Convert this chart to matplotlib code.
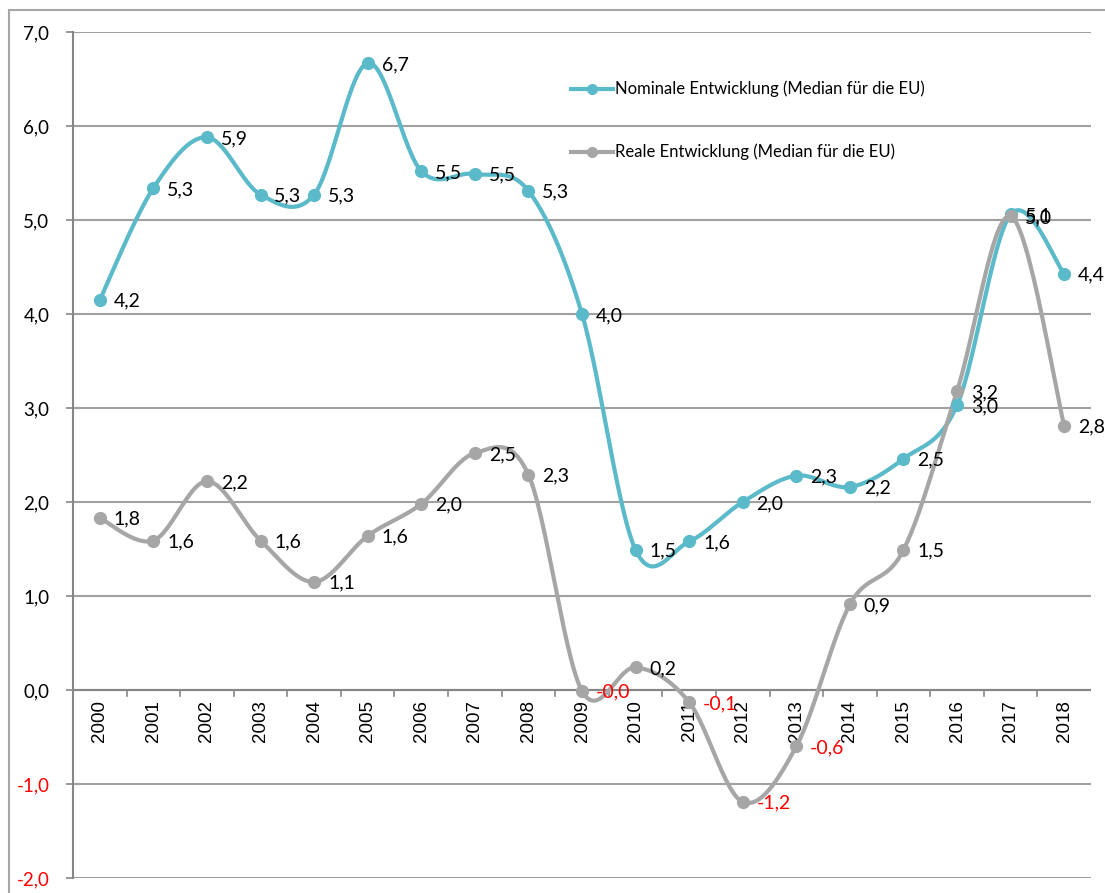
import matplotlib.pyplot as plt
import numpy as np
from matplotlib.patches import Rectangle

# Daten
jahre = [str(j) for j in range(2000, 2019)]
nominal = [4.15, 5.34, 5.88, 5.27, 5.27, 6.67, 5.52, 5.49, 5.31, 4.00,
           1.49, 1.58, 2.00, 2.28, 2.16, 2.46, 3.03, 5.06, 4.43]
real = [1.83, 1.59, 2.22, 1.59, 1.15, 1.64, 1.98, 2.52, 2.29, -0.01,
        0.24, -0.13, -1.19, -0.60, 0.91, 1.49, 3.18, 5.04, 2.81]
name_nom = "Nominale Entwicklung (Median für die EU)"
name_real = "Reale Entwicklung (Median für die EU)"

col_nom = "#5BBAC9"
col_real = "#A6A6A6"
font = "Lato"


def smooth(x, y, n=30):
    # Catmull-Rom-Spline wie bei Excel "geglättete Linie"
    x = np.asarray(x, float)
    y = np.asarray(y, float)
    px = np.concatenate([[x[0]], x, [x[-1]]])
    py = np.concatenate([[y[0]], y, [y[-1]]])
    xs, ys = [], []
    t = np.linspace(0, 1, n)
    for i in range(1, len(px) - 2):
        p0, p1, p2, p3 = (np.array([px[j], py[j]]) for j in range(i - 1, i + 3))
        c1 = p1 + (p2 - p0) / 6
        c2 = p2 - (p3 - p1) / 6
        b = ((1 - t) ** 3)[:, None] * p1 + (3 * (1 - t) ** 2 * t)[:, None] * c1 \
            + (3 * (1 - t) * t ** 2)[:, None] * c2 + (t ** 3)[:, None] * p2
        xs.extend(b[:, 0])
        ys.extend(b[:, 1])
    return np.array(xs), np.array(ys)


def fmt(v):
    return f"{v:.1f}".replace(".", ",")


fig = plt.figure(figsize=(11.05, 8.93), dpi=100)
ax = fig.add_axes([73 / 1105, 1 - 878 / 893, (1091 - 73) / 1105, (878 - 32) / 893])

x = np.arange(len(jahre))
for vals, col, lab in [(nominal, col_nom, name_nom), (real, col_real, name_real)]:
    sx, sy = smooth(x, vals)
    ax.plot(sx, sy, color=col, lw=3, solid_capstyle="round", zorder=3)
    ax.plot(x, vals, "o", color=col, ms=8.5, zorder=4)
    for xi, v in zip(x, vals):
        ax.annotate(fmt(v), (xi, v), xytext=(10, -1), textcoords="offset points",
                    ha="left", va="center", fontsize=14, family=font,
                    color="red" if v < 0 else "black", zorder=5)

ax.set_xlim(-0.5, len(jahre) - 0.5)
ax.set_ylim(-2, 7)
ax.set_yticks(np.arange(-2, 8, 1))
ax.set_yticklabels([fmt(v) for v in np.arange(-2, 8, 1)], family=font, fontsize=13.5)
for t, v in zip(ax.get_yticklabels(), np.arange(-2, 8, 1)):
    if v < 0:
        t.set_color("red")
ax.tick_params(axis="y", length=5, width=1.2, color="#868686", pad=12)
ax.grid(axis="y", color="#A0A0A0", lw=1.5, zorder=0)
ax.set_axisbelow(True)
for s in ["top", "right", "bottom"]:
    ax.spines[s].set_visible(False)
ax.spines["left"].set_color("#868686")
ax.spines["left"].set_linewidth(1.5)

# Kategorienachse bei y = 0
ax.set_xticks([])
ax.axhline(0, color="#868686", lw=1.5, zorder=1)
for b in np.arange(0.5, len(jahre) - 0.5, 1):
    ax.plot([b, b], [0, -0.06], color="#868686", lw=1.2, zorder=1)
for xi, j in zip(x, jahre):
    ax.text(xi, -0.11, j, rotation=90, ha="center", va="top",
            fontsize=13.5, family="Liberation Sans", zorder=2)

# Legende
for yy, col in [(89, col_nom), (152, col_real)]:
    fig.lines.append(plt.Line2D([571 / 1105, 592 / 1105, 613 / 1105], [1 - yy / 893] * 3,
                                color=col, lw=3, marker="o", markevery=[1],
                                ms=7, transform=fig.transFigure))
fig.text(615 / 1105, 1 - 89 / 893, name_nom, va="center", fontsize=12, family=font)
fig.text(615 / 1105, 1 - 152 / 893, name_real, va="center", fontsize=12, family=font)

# Rahmen des Diagrammbereichs
fig.patches.append(Rectangle((9 / 1105, -0.05), 1.1, 1.05 - 10 / 893,
                             transform=fig.transFigure, fill=False,
                             edgecolor="#A6A6A6", lw=1.5))

fig.savefig("out.png", dpi=100, facecolor="white")
